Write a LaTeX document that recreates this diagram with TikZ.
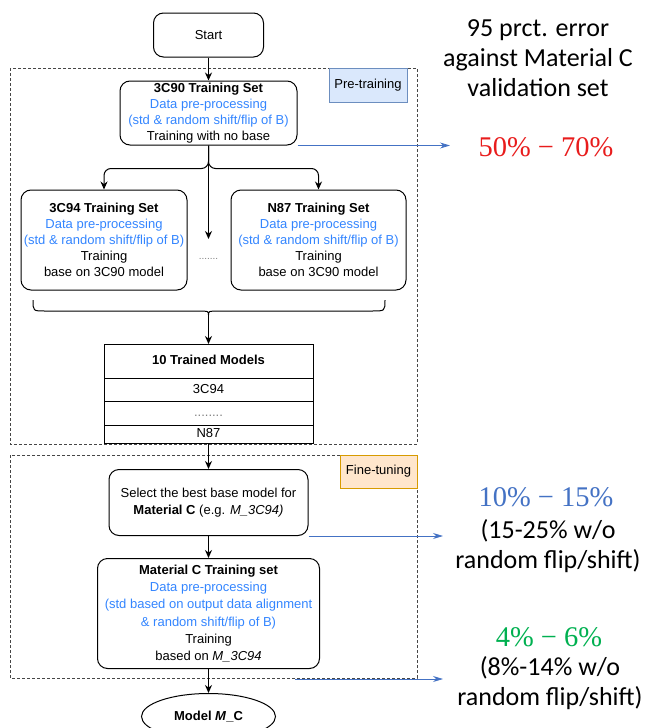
\documentclass[tikz,border=0pt]{standalone}
\usepackage{fontspec}
\setmainfont{Liberation Sans}
\newfontfamily\calib{Carlito}
\newfontfamily\percfont{Liberation Serif}
\usetikzlibrary{positioning, shapes.geometric, arrows.meta}
\definecolor{procblue}{RGB}{51,133,255}
\definecolor{errblue}{RGB}{68,114,196}
\definecolor{errred}{RGB}{232,28,28}
\definecolor{errgreen}{RGB}{0,176,80}
\definecolor{stagegray}{RGB}{70,70,70}
\definecolor{pretag}{RGB}{218,232,252}
\definecolor{preline}{RGB}{108,142,191}
\definecolor{finetag}{RGB}{255,230,204}
\definecolor{fineline}{RGB}{215,155,0}

\begin{document}
\begin{tikzpicture}[x=1pt, y=-1pt, line width=1pt, >={Stealth[length=8pt, width=7pt]},
  main/.style = {draw, rounded corners=10pt, align=center, inner sep=0pt, font=\fontsize{13}{16}\selectfont},
  cell/.style = {draw, minimum width=209pt, inner sep=0pt, outer sep=0pt, text height=9.5pt, text depth=2.5pt, font=\fontsize{13}{16}\selectfont},
  tag/.style = {draw, line width=0.9pt, inner sep=0pt, font=\fontsize{13}{16}\selectfont},
  stage/.style = {draw=stagegray, line width=1pt, dash pattern=on 3pt off 2pt},
  err/.style = {-{Stealth[length=10pt, width=6pt]}, draw=errblue, line width=0.8pt},
  note/.style = {align=center, font=\calib\fontsize{26}{30}\selectfont},
  perc/.style = {font=\percfont\fontsize{28.5}{32}\selectfont}]
  \useasboundingbox (0,0) rectangle (646,728);
  \draw[stage] (10,68) rectangle (417,444);
  \draw[stage] (10,455) rectangle (417,678);
  \node[tag, fill=pretag, draw=preline, minimum width=78pt, minimum height=34pt] (pre) at (368,85) {Pre-training};
  \node[tag, fill=finetag, draw=fineline, minimum width=77pt, minimum height=33pt] (fine) at (378.5,471.5) {Fine-tuning};
  \node[main, minimum width=110pt, minimum height=44pt] (start) at (208.5,35) {Start};
  \node[main, minimum width=177pt, minimum height=64pt, below=23pt of start] (c90) {\textbf{3C90 Training Set}\\\textcolor{procblue}{Data pre-processing}\\\textcolor{procblue}{(std \& random shift/flip of B)}\\Training with no base};
  \node[main, minimum width=166pt, minimum height=100pt] (c94) at (104,240) {\textbf{3C94 Training Set}\\\textcolor{procblue}{Data pre-processing}\\\textcolor{procblue}{(std \& random shift/flip of B)}\\Training\\base on 3C90 model};
  \node[main, minimum width=175pt, minimum height=100pt] (n87) at (318.5,240) {\textbf{N87 Training Set}\\\textcolor{procblue}{Data pre-processing}\\\textcolor{procblue}{(std \& random shift/flip of B)}\\Training\\base on 3C90 model};
  \node[text=gray, font=\fontsize{10}{10}\selectfont] (more) at (208.5,259) {.......};
  \coordinate (mid) at (208.5,239);
  \coordinate (tip) at (208.5,315);
  \node[cell, minimum height=34pt, font=\bfseries\fontsize{13}{16}\selectfont] (models) at (208.5,361) {10 Trained Models};
  \node[cell, minimum height=23pt, below=0pt of models] (r1) {3C94};
  \node[cell, minimum height=24pt, below=0pt of r1] (r2) {\textcolor{gray}{........}};
  \node[cell, minimum height=18pt, below=0pt of r2] (r3) {N87};
  \node[main, minimum width=199pt, minimum height=66pt, below=26pt of r3, font=\fontsize{13}{16.7}\selectfont] (select) {Select the best base model for\\\textbf{Material C} (e.g. \textit{M\_3C94)}};
  \node[main, minimum width=222pt, minimum height=110pt, below=22pt of select, font=\fontsize{13}{17.2}\selectfont] (matc) {\textbf{Material C Training set}\\\textcolor{procblue}{Data pre-processing}\\\textcolor{procblue}{(std based on output data alignment}\\\textcolor{procblue}{\& random shift/flip of B)}\\Training\\based on \textit{M\_3C94}};
  \node[main, ellipse, minimum width=134pt, minimum height=46pt, below=24pt of matc, font=\bfseries\fontsize{13}{16}\selectfont] (model) {Model \textit{M}\_C};
  \node[note] (head) at (538,58) {95 prct. error\\against Material C\\validation set};
  \node[perc, text=errred] (p1) at (546,147) {50\% − 70\%};
  \node[perc, text=errblue] (p2) at (546,497) {10\% − 15\%};
  \node[note] (n2) at (548,546) {(15-25\% w/o\\random flip/shift)};
  \node[perc, text=errgreen] (p3) at (549,637) {4\% − 6\%};
  \node[note] (n3) at (550,683) {(8\%-14\% w/o\\random flip/shift)};
  \coordinate (e1) at (450,144);
  \coordinate (e2) at (443,536);
  \coordinate (s3) at (295,679);
  \coordinate (e3) at (443,679);
  \draw[->] (start) -- (c90);
  \draw[->, rounded corners=7pt] (c90.south) -- ++(0,23) -| (c94.north);
  \draw[->, rounded corners=7pt] (c90.south) -- ++(0,23) -| (n87.north);
  \draw[->] (c90.south) -- (mid);
  \draw (33,300) .. controls (33,311) .. (45,311) -- (197,311) .. controls (208.5,311) .. (tip) .. controls (208.5,311) .. (220,311) -- (372,311) .. controls (385,311) .. (385,300);
  \draw[->] (tip) -- (models.north);
  \draw[->] (r3) -- (select);
  \draw[->] (select) -- (matc);
  \draw[->] (matc) -- (model);
  \draw[err] (c90.south east) -- (c90.south east -| e1);
  \draw[err] (select.south east) -- (select.south east -| e2);
  \draw[err] (s3) -- (e3);
\end{tikzpicture}
\end{document}
